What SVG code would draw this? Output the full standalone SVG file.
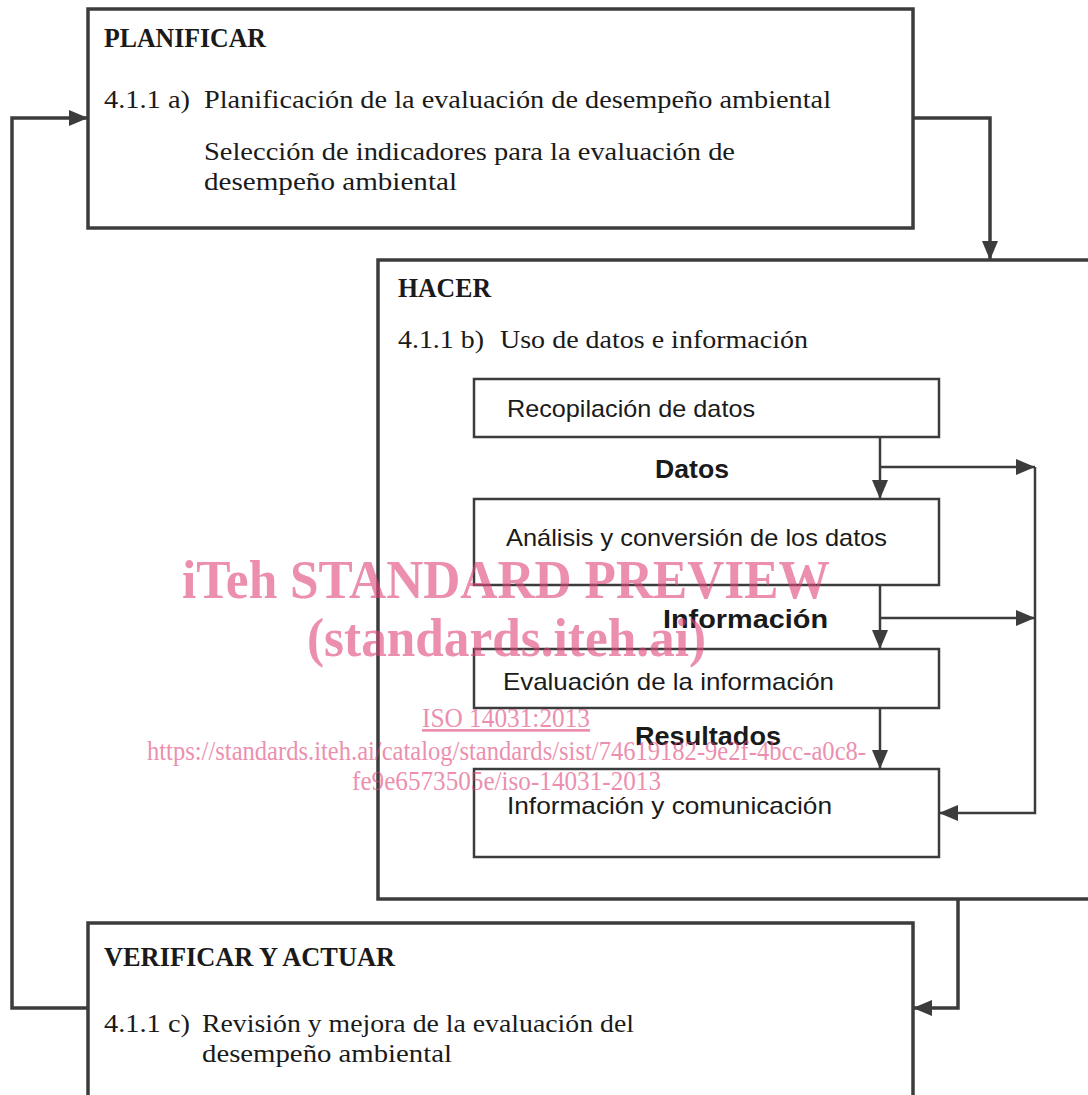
<svg xmlns="http://www.w3.org/2000/svg" width="1088" height="1095" viewBox="0 0 1088 1095">
<defs>
<marker id="ah" markerUnits="userSpaceOnUse" markerWidth="20" markerHeight="16" refX="19" refY="8" orient="auto">
<path d="M0,0 L19,8 L0,16 z" fill="#3c3c3c"/>
</marker>
<style>
.outer{fill:#fff;stroke:#3c3c3c;stroke-width:3.5}
.inner{fill:#fff;stroke:#3c3c3c;stroke-width:2.5}
.con{fill:none;stroke:#3c3c3c;stroke-width:3.5}
.icon{fill:none;stroke:#3c3c3c;stroke-width:2.5}
.t{font-family:"Liberation Serif",serif;font-size:25px;fill:#1a1a1a}
.tb{font-family:"Liberation Serif",serif;font-size:27px;font-weight:bold;fill:#1a1a1a}
.s{font-family:"Liberation Sans",sans-serif;font-size:24px;fill:#1a1a1a}
.sb{font-family:"Liberation Sans",sans-serif;font-size:26px;font-weight:bold;fill:#1a1a1a}
.wm{font-family:"Liberation Serif",serif;fill:#e0457b;opacity:0.6}
</style>
</defs>
<rect width="1088" height="1095" fill="#fff"/>

<g id="planificar">
<rect class="outer" x="88" y="9" width="825" height="219"/>
<text class="tb" x="104" y="47" textLength="162" lengthAdjust="spacingAndGlyphs">PLANIFICAR</text>
<text class="t" x="104" y="108" textLength="86" lengthAdjust="spacingAndGlyphs">4.1.1 a)</text>
<text class="t" x="204" y="108" textLength="627" lengthAdjust="spacingAndGlyphs">Planificación de la evaluación de desempeño ambiental</text>
<text class="t" x="204" y="160" textLength="531" lengthAdjust="spacingAndGlyphs">Selección de indicadores para la evaluación de</text>
<text class="t" x="204" y="190" textLength="253" lengthAdjust="spacingAndGlyphs">desempeño ambiental</text>
</g>

<g id="hacer">
<rect class="outer" x="378" y="260" width="730" height="639"/>
<text class="tb" x="398" y="297" textLength="93" lengthAdjust="spacingAndGlyphs">HACER</text>
<text class="t" x="398" y="348" textLength="86" lengthAdjust="spacingAndGlyphs">4.1.1 b)</text>
<text class="t" x="500" y="348" textLength="308" lengthAdjust="spacingAndGlyphs">Uso de datos e información</text>
</g>

<g id="recopilacion">
<rect class="inner" x="474" y="379" width="465" height="58"/>
<text class="s" x="507" y="417" textLength="248" lengthAdjust="spacingAndGlyphs">Recopilación de datos</text>
</g>
<g id="analisis">
<rect class="inner" x="474" y="499" width="465" height="86"/>
<text class="s" x="506" y="546" textLength="381" lengthAdjust="spacingAndGlyphs">Análisis y conversión de los datos</text>
</g>
<g id="evaluacion">
<rect class="inner" x="474" y="649" width="465" height="59"/>
<text class="s" x="503" y="690" textLength="331" lengthAdjust="spacingAndGlyphs">Evaluación de la información</text>
</g>
<g id="comunicacion">
<rect class="inner" x="474" y="769" width="465" height="88"/>
<text class="s" x="507" y="814" textLength="325" lengthAdjust="spacingAndGlyphs">Información y comunicación</text>
</g>

<g id="verificar">
<rect class="outer" x="88" y="923" width="825" height="200"/>
<text class="tb" x="104" y="966" textLength="291" lengthAdjust="spacingAndGlyphs">VERIFICAR Y ACTUAR</text>
<text class="t" x="104" y="1032" textLength="86" lengthAdjust="spacingAndGlyphs">4.1.1 c)</text>
<text class="t" x="202" y="1032" textLength="432" lengthAdjust="spacingAndGlyphs">Revisión y mejora de la evaluación del</text>
<text class="t" x="202" y="1062" textLength="250" lengthAdjust="spacingAndGlyphs">desempeño ambiental</text>
</g>

<g id="connectors">
<path class="con" d="M88,1008 L12,1008 L12,118 L88,118" marker-end="url(#ah)"/>
<path class="con" d="M913,118 L990,118 L990,260" marker-end="url(#ah)"/>
<path class="con" d="M958,899 L958,1008 L913,1008" marker-end="url(#ah)"/>
<path class="icon" d="M880,437 L880,499" marker-end="url(#ah)"/>
<path class="icon" d="M880,467 L1035,467" marker-end="url(#ah)"/>
<path class="icon" d="M880,585 L880,649" marker-end="url(#ah)"/>
<path class="icon" d="M880,618 L1035,618" marker-end="url(#ah)"/>
<path class="icon" d="M880,708 L880,769" marker-end="url(#ah)"/>
<path class="icon" d="M1035,467 L1035,813 L939,813" marker-end="url(#ah)"/>
<text class="sb" x="655" y="478" textLength="74" lengthAdjust="spacingAndGlyphs">Datos</text>
<text class="sb" x="663" y="628" textLength="165" lengthAdjust="spacingAndGlyphs">Información</text>
<text class="sb" x="635" y="745" textLength="146" lengthAdjust="spacingAndGlyphs">Resultados</text>
</g>

<g id="watermark">
<text class="wm" x="182" y="598" font-size="54" font-weight="bold" textLength="648" lengthAdjust="spacingAndGlyphs">iTeh STANDARD PREVIEW</text>
<text class="wm" x="307" y="656" font-size="54" font-weight="bold" textLength="399" lengthAdjust="spacingAndGlyphs">(standards.iteh.ai)</text>
<text class="wm" x="422" y="727" font-size="27" text-decoration="underline" textLength="168" lengthAdjust="spacingAndGlyphs">ISO 14031:2013</text>
<text class="wm" x="147" y="760" font-size="27" textLength="719" lengthAdjust="spacingAndGlyphs">https://standards.iteh.ai/catalog/standards/sist/74619182-9e2f-4bcc-a0c8-</text>
<text class="wm" x="352" y="790" font-size="27" textLength="309" lengthAdjust="spacingAndGlyphs">fe9e6573505e/iso-14031-2013</text>
</g>
</svg>
